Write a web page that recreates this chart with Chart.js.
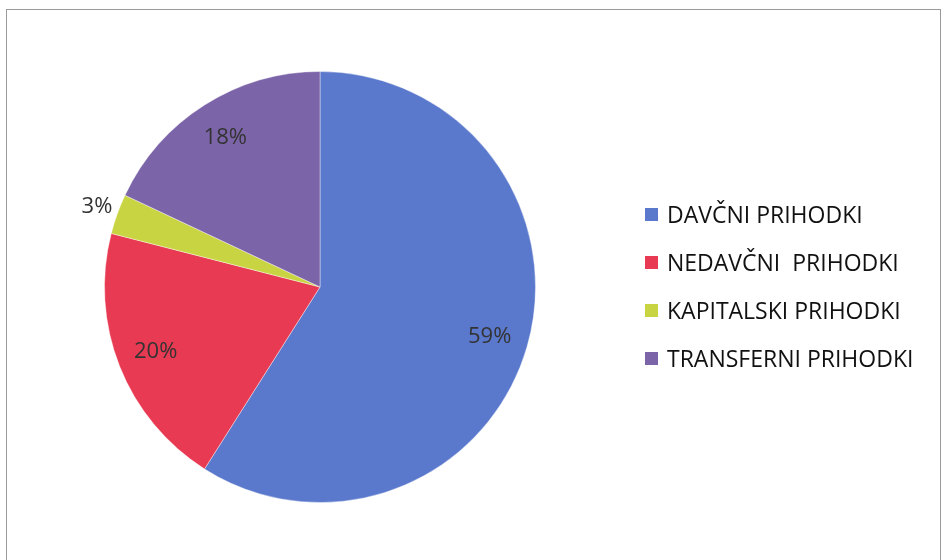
<!DOCTYPE html>
<html>
<head>
<meta charset="utf-8">
<script src="https://cdn.jsdelivr.net/npm/chart.js@4/dist/chart.umd.min.js"></script>
<style>
  body { margin: 0; background: #fff; }
  #wrap { position: relative; width: 946px; height: 560px; overflow: hidden; }
  #frame { position: absolute; left: 6px; top: 9px; width: 933px; height: 600px; border: 1px solid #9a9a9a; }
  #myChart { position: absolute; left: 0; top: 0; }
  #legend { position: absolute; left: 645px; top: 190px; font-family: 'Open Sans', sans-serif; font-size: 23px; color: #111; }
  #legend div { height: 48px; display: flex; align-items: center; }
  #legend span.box { display: inline-block; width: 13px; height: 13px; margin-right: 9px; }
</style>
</head>
<body>
<div id="wrap">
  <div id="frame"></div>
  <canvas id="myChart" width="946" height="560"></canvas>
  <div id="legend"></div>
</div>
<script>
const categories = ['DAVČNI PRIHODKI', 'NEDAVČNI  PRIHODKI', 'KAPITALSKI PRIHODKI', 'TRANSFERNI PRIHODKI'];
const shares = [59, 20, 3, 18];
const colors = ['#5a78cc', '#e83a52', '#c9d442', '#7c64a8'];

const ctx = document.getElementById('myChart');
const legend = document.getElementById('legend');

categories.forEach((name, i) => {
  const row = document.createElement('div');
  const box = document.createElement('span');
  box.className = 'box';
  box.style.background = colors[i];
  row.appendChild(box);
  row.appendChild(document.createTextNode(name.replace(/ /g, '\u00a0')));
  legend.appendChild(row);
});

// percent labels, small slices go outside
const pctLabels = {
  id: 'pctLabels',
  afterDatasetsDraw(chart) {
    const c = chart.ctx;
    const meta = chart.getDatasetMeta(0);
    c.save();
    c.font = '22px "Open Sans", sans-serif';
    c.fillStyle = '#333';
    c.textAlign = 'center';
    c.textBaseline = 'middle';
    meta.data.forEach((arc, i) => {
      const p = arc.getProps(['x', 'y', 'startAngle', 'endAngle', 'outerRadius']);
      const mid = (p.startAngle + p.endAngle) / 2;
      const r = shares[i] < 5 ? p.outerRadius * 1.1 : p.outerRadius * 0.82;
      c.fillText(shares[i] + '%', p.x + Math.cos(mid) * r, p.y + Math.sin(mid) * r);
    });
    c.restore();
  },
};

new Chart(ctx, {
  type: 'pie',
  data: {
    labels: categories,
    datasets: [
      {
        data: shares,
        backgroundColor: colors,
        borderColor: 'rgba(255,255,255,0.4)',
        borderWidth: 1,
      },
    ],
  },
  options: {
    responsive: false,
    animation: false,
    layout: {
      padding: { left: 104, top: 71, right: 410, bottom: 57 },
    },
    plugins: {
      legend: { display: false },
      tooltip: { enabled: false },
    },
  },
  plugins: [pctLabels],
});
</script>
</body>
</html>
